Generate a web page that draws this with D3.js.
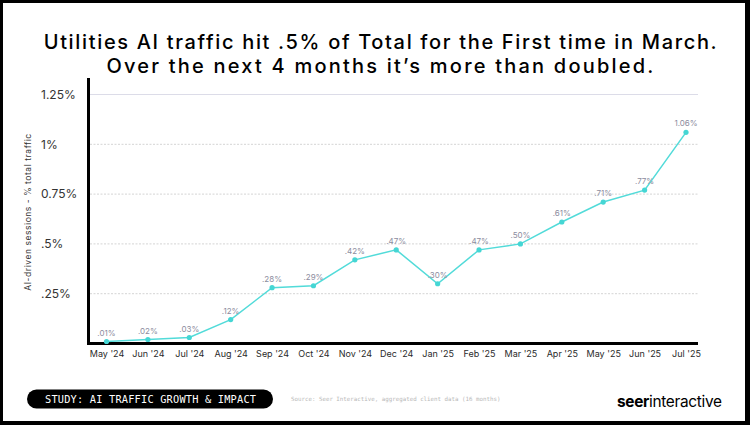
<!DOCTYPE html>
<html>
<head>
<meta charset="utf-8">
<script src="https://cdn.jsdelivr.net/npm/d3@7"></script>
<style>
  html, body { margin: 0; padding: 0; background: #000; }
  svg { display: block; }
</style>
</head>
<body>
<svg id="chart"></svg>
<script>
// data
const months = ["May '24", "Jun '24", "Jul '24", "Aug '24", "Sep '24", "Oct '24", "Nov '24", "Dec '24",
  "Jan '25", "Feb '25", "Mar '25", "Apr '25", "May '25", "Jun '25", "Jul '25"];
const share = [0.01, 0.02, 0.03, 0.12, 0.28, 0.29, 0.42, 0.47, 0.30, 0.47, 0.50, 0.61, 0.71, 0.77, 1.06];
const pointLabels = [".01%", ".02%", ".03%", ".12%", ".28%", ".29%", ".42%", ".47%", ".30%", ".47%", ".50%",
  ".61%", ".71%", ".77%", "1.06%"];
const yTicks = [0.25, 0.5, 0.75, 1, 1.25];
const yTickLabels = [".25%", ".5%", "0.75%", "1%", "1.25%"];

const titleLines = [
  "Utilities AI traffic hit .5% of Total for the First time in March.",
  "Over the next 4 months it\u2019s more than doubled."
];

const W = 750, H = 425;
const font = "Inter, 'Open Sans', sans-serif";

const svg = d3.select("#chart").attr("width", W).attr("height", H);

// black frame with white card
svg.append("rect").attr("width", W).attr("height", H).attr("fill", "#000");
svg.append("rect")
  .attr("x", 3).attr("y", 3)
  .attr("width", W - 8).attr("height", H - 7)
  .attr("fill", "#fff");

// stretch text to a target width with letter spacing
function spread(sel, target) {
  const w = sel.node().getComputedTextLength();
  const n = sel.text().length;
  sel.attr("letter-spacing", (target - w) / (n - 1));
}
function fit(sel, target) {
  const w = sel.node().getComputedTextLength();
  const fs = parseFloat(sel.attr("font-size"));
  sel.attr("font-size", fs * target / w);
}

// title
const titleWidths = [673, 547];
titleLines.forEach((t, i) => {
  const tx = svg.append("text")
    .attr("x", 381).attr("y", 49 + i * 24)
    .attr("text-anchor", "middle")
    .attr("font-family", font)
    .attr("font-weight", 500)
    .attr("font-size", 20)
    .attr("fill", "#000")
    .text(t);
  spread(tx, titleWidths[i]);
});

// scales
const x = d3.scalePoint().domain(months).range([106.5, 686]);
const y = d3.scaleLinear().domain([0, 1.25]).range([343.5, 94.5]);

const plotLeft = 90, plotRight = 698;

// gridlines
svg.append("g").selectAll("line")
  .data(yTicks)
  .join("line")
  .attr("x1", plotLeft).attr("x2", plotRight)
  .attr("y1", d => y(d)).attr("y2", d => y(d))
  .attr("stroke", d => d === 1.25 ? "#dcdce8" : "#d4d4d4")
  .attr("stroke-width", 1)
  .attr("stroke-dasharray", d => d === 1.25 ? null : "2,1.5");

// y tick labels (left aligned)
const yAxis = svg.append("g")
  .attr("transform", `translate(${plotLeft},0)`)
  .call(d3.axisLeft(y).tickValues(yTicks).tickSize(0)
    .tickFormat((d, i) => yTickLabels[i]));
yAxis.select(".domain").remove();
yAxis.selectAll("text")
  .attr("x", 41 - plotLeft)
  .attr("text-anchor", "start")
  .attr("font-family", font)
  .attr("font-size", 12)
  .attr("fill", "#333");

// x tick labels
const xAxis = svg.append("g")
  .attr("transform", `translate(0,${y(0)})`)
  .call(d3.axisBottom(x).tickSize(0).tickPadding(7));
xAxis.select(".domain").remove();
xAxis.selectAll("text")
  .attr("font-family", font)
  .attr("font-size", 9)
  .attr("fill", "#2a2a2a");

// axis lines
svg.append("line")
  .attr("x1", 88.5).attr("x2", 88.5)
  .attr("y1", 78).attr("y2", 345)
  .attr("stroke", "#000").attr("stroke-width", 3);
svg.append("line")
  .attr("x1", 87).attr("x2", plotRight)
  .attr("y1", 343.5).attr("y2", 343.5)
  .attr("stroke", "#000").attr("stroke-width", 3);

// y axis title
svg.append("text")
  .attr("transform", `translate(31,${212}) rotate(-90)`)
  .attr("text-anchor", "middle")
  .attr("font-family", font)
  .attr("font-size", 8.5)
  .attr("letter-spacing", 0.55)
  .attr("fill", "#333")
  .text("AI-driven sessions - % total traffic");

// line
const line = d3.line()
  .x((d, i) => x(months[i]))
  .y(d => y(d));

svg.append("path")
  .datum(share)
  .attr("fill", "none")
  .attr("stroke", "#52dbd9")
  .attr("stroke-width", 1.5)
  .attr("d", line);

svg.append("g").selectAll("circle")
  .data(share)
  .join("circle")
  .attr("cx", (d, i) => x(months[i]))
  .attr("cy", d => y(d))
  .attr("r", 2.6)
  .attr("fill", "#45d6d4");

svg.append("g").selectAll("text")
  .data(share)
  .join("text")
  .attr("x", (d, i) => x(months[i]))
  .attr("y", d => y(d) - 6)
  .attr("text-anchor", "middle")
  .attr("font-family", font)
  .attr("font-size", 8)
  .attr("fill", "#8c8c9e")
  .text((d, i) => pointLabels[i]);

// footer pill
svg.append("rect")
  .attr("x", 27).attr("y", 389.5)
  .attr("width", 246).attr("height", 19)
  .attr("rx", 9.5)
  .attr("fill", "#000");
svg.append("text")
  .attr("x", 45).attr("y", 402.5)
  .attr("font-family", "'DejaVu Sans Mono', 'Liberation Mono', monospace")
  .attr("font-size", 10.3)
  .attr("letter-spacing", 0.2)
  .attr("fill", "#fff")
  .text("STUDY: AI TRAFFIC GROWTH & IMPACT");

svg.append("text")
  .attr("x", 291).attr("y", 401)
  .attr("font-family", "'DejaVu Sans Mono', 'Liberation Mono', monospace")
  .attr("font-size", 5.8)
  .attr("fill", "#b8b8b8")
  .text("Source: Seer Interactive, aggregated client data (16 months)");

// logo
const logo = svg.append("text")
  .attr("x", 617).attr("y", 407)
  .attr("font-family", font)
  .attr("font-size", 16)
  .attr("fill", "#000")
  .attr("letter-spacing", -0.3);
logo.append("tspan").attr("font-weight", 700).text("seer");
logo.append("tspan").attr("font-weight", 400).text("interactive");
fit(logo, 105);
</script>
</body>
</html>
